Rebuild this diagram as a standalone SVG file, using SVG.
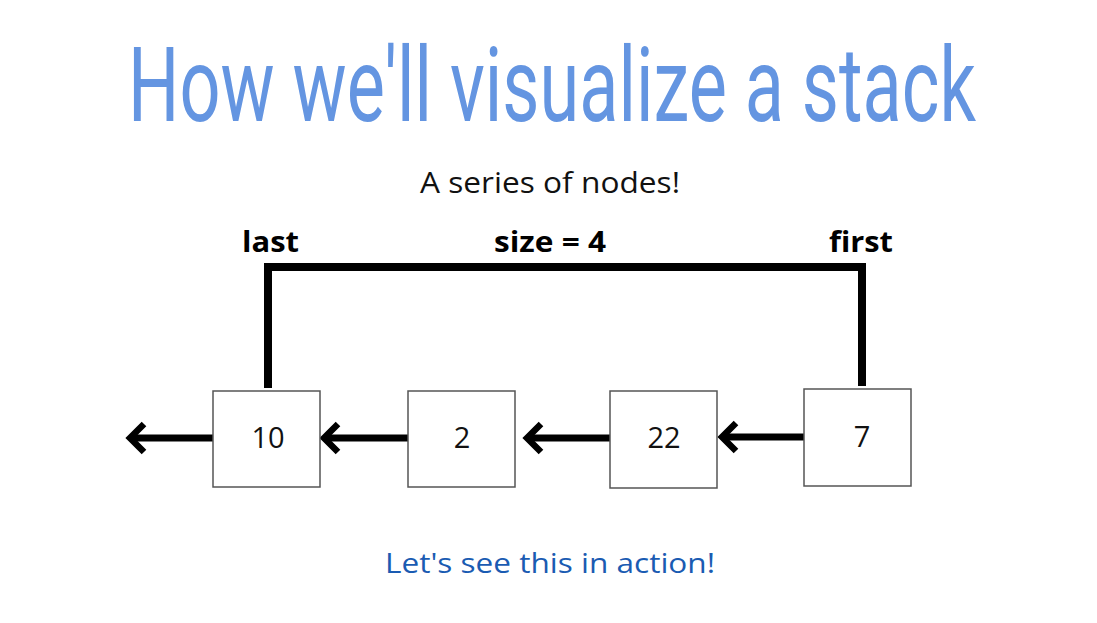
<svg xmlns="http://www.w3.org/2000/svg" width="1097" height="623" viewBox="0 0 1097 623">
<defs>
<style>
.title{font-family:"Roboto","Liberation Sans",sans-serif;font-weight:400;font-size:103px;fill:#6495e1}
.sub{font-family:"Open Sans","Noto Sans",sans-serif;font-size:29px;fill:#111}
.lbl{font-family:"Open Sans","Noto Sans",sans-serif;font-weight:bold;font-size:29px;fill:#000}
.num{font-family:"Open Sans","Noto Sans",sans-serif;font-size:29px;fill:#111}
.box{fill:#fff;stroke:#555;stroke-width:1.5}
.link{fill:none;stroke:#000;stroke-width:7}
.ptr{fill:none;stroke:#000;stroke-width:8}
.foot{font-family:"Open Sans","Noto Sans",sans-serif;font-size:28px;fill:#1a5bb2}
</style>
<marker id="head" viewBox="0 0 24 34" refX="15" refY="17" markerUnits="userSpaceOnUse" markerWidth="24" markerHeight="34" orient="auto" overflow="visible">
<path d="M4,3 L18,17 L4,31" fill="none" stroke="#000" stroke-width="6.5"/>
</marker>
</defs>
<rect width="1097" height="623" fill="#fff"/>
<text class="title" x="128" y="121" textLength="848" lengthAdjust="spacingAndGlyphs">How we'll visualize a stack</text>
<text class="sub" x="420" y="193" textLength="260" lengthAdjust="spacingAndGlyphs">A series of nodes!</text>
<g id="labels">
<text class="lbl" x="242" y="252" textLength="57" lengthAdjust="spacingAndGlyphs">last</text>
<text class="lbl" x="494" y="252" textLength="112" lengthAdjust="spacingAndGlyphs">size = 4</text>
<text class="lbl" x="829" y="252" textLength="64" lengthAdjust="spacingAndGlyphs">first</text>
</g>
<g id="connectors">
<path class="ptr" d="M268,388 V267 H862 V386"/>
<line class="link" x1="215" y1="438" x2="133" y2="438" marker-end="url(#head)"/>
<line class="link" x1="410" y1="438" x2="327" y2="438" marker-end="url(#head)"/>
<line class="link" x1="612" y1="438" x2="530" y2="438" marker-end="url(#head)"/>
<line class="link" x1="807" y1="437" x2="725" y2="437" marker-end="url(#head)"/>
</g>
<g id="node10">
<rect class="box" x="213" y="391" width="107" height="96"/>
<text class="num" x="268" y="448" text-anchor="middle">10</text>
</g>
<g id="node2">
<rect class="box" x="408" y="391" width="107" height="96"/>
<text class="num" x="462" y="448" text-anchor="middle">2</text>
</g>
<g id="node22">
<rect class="box" x="610" y="391" width="107" height="97"/>
<text class="num" x="664" y="448" text-anchor="middle">22</text>
</g>
<g id="node7">
<rect class="box" x="804" y="389" width="107" height="97"/>
<text class="num" x="862" y="447" text-anchor="middle">7</text>
</g>
<text class="foot" x="385" y="573" textLength="330" lengthAdjust="spacingAndGlyphs">Let's see this in action!</text>
</svg>
